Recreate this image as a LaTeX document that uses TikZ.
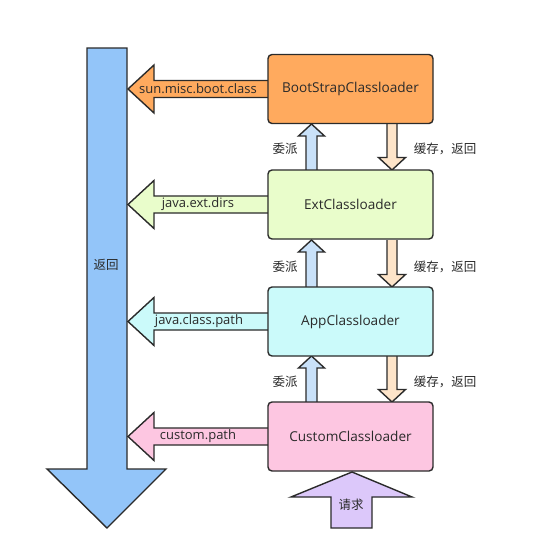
\documentclass[tikz,border=0pt]{standalone}
\usepackage{fontspec}
\setmainfont{Open Sans}
\newfontfamily\cjk{Noto Sans CJK SC}
\usetikzlibrary{calc}
\definecolor{bigblue}{HTML}{93C5F9}
\definecolor{orangef}{HTML}{FFAA5E}
\definecolor{greenf}{HTML}{E9FDCB}
\definecolor{cyanf}{HTML}{CBFAFA}
\definecolor{pinkf}{HTML}{FDC6E1}
\definecolor{purplef}{HTML}{DCC8FA}
\definecolor{upf}{HTML}{C9E1F9}
\definecolor{downf}{HTML}{FDE4C9}
\definecolor{edge}{HTML}{2B2B2B}
\definecolor{txt}{HTML}{2A2A2A}
\newcommand\leftblock[2]{% y, fill
  \draw[shapeline,fill=#2] (268,#1-8.5) -- (154,#1-8.5) -- (154,#1-24) -- (128,#1) -- (154,#1+24) -- (154,#1+8.5) -- (268,#1+8.5);}
\newcommand\upblock[2]{% top y (tip), bottom y
  \draw[shapeline,fill=upf] (306,#2) -- (306,#1+12) -- (298.5,#1+12) -- (311.5,#1) -- (324.5,#1+12) -- (317,#1+12) -- (317,#2);}
\newcommand\downblock[2]{% top y, tip y
  \draw[shapeline,fill=downf] (387,#1) -- (387,#2-12.5) -- (378.5,#2-12.5) -- (392,#2) -- (405.5,#2-12.5) -- (397,#2-12.5) -- (397,#1);}
\begin{document}
\begin{tikzpicture}[x=1pt,y=-1pt,
  shapeline/.style={draw=edge,line width=1.4pt,line join=miter},
  loader/.style={draw=edge,line width=1.4pt,rounded corners=4pt,minimum width=165pt,minimum height=69pt,font=\fontsize{13.6}{16}\selectfont,text=txt,inner sep=0pt},
  lbl/.style={font=\fontsize{13}{15}\selectfont,text=txt,inner sep=0pt},
  cjklbl/.style={font=\cjk\fontsize{12.5}{15}\selectfont,text=txt,inner sep=0pt}]
\useasboundingbox[fill=white] (0,0) rectangle (557,560);
% big return arrow
\draw[shapeline,fill=bigblue] (87,48) -- (127,48) -- (127,469) -- (166,469) -- (107,528) -- (47,469) -- (87,469) -- cycle;
\node[cjklbl] (ret) at (106,265) {返回};
% left arrows
\leftblock{89}{orangef}
\leftblock{204.5}{greenf}
\leftblock{321.5}{cyanf}
\leftblock{436.5}{pinkf}
\node[lbl] (p1) at (198,89) {sun.misc.boot.class};
\node[lbl] (p2) at (198,204.5) {java.ext.dirs};
\node[lbl] (p3) at (199,321.5) {java.class.path};
\node[lbl] (p4) at (198,436.5) {custom.path};
% up / down arrows
\upblock{124}{170}
\upblock{240}{287}
\upblock{356}{402}
\downblock{124}{170}
\downblock{240}{287}
\downblock{356}{402}
% loaders
\node[loader,fill=orangef] (boot) at (350.5,89) {BootStrapClassloader};
\node[loader,fill=greenf] (ext) at (350.5,204.5) {ExtClassloader};
\node[loader,fill=cyanf] (app) at (350.5,321.5) {AppClassloader};
\node[loader,fill=pinkf] (custom) at (350.5,436.5) {CustomClassloader};
% labels
\node[cjklbl] (d1) at (285,149) {委派};
\node[cjklbl] (d2) at (285,267) {委派};
\node[cjklbl] (d3) at (285,382) {委派};
\node[cjklbl] (c1) at (445,149) {缓存，返回};
\node[cjklbl] (c2) at (445,267) {缓存，返回};
\node[cjklbl] (c3) at (445,382) {缓存，返回};
% request arrow
\draw[shapeline,fill=purplef] (331,528) -- (331,497) -- (291,497) -- (352,472) -- (412,497) -- (372,497) -- (372,528) -- cycle;
\node[cjklbl] (req) at (351,505) {请求};
\end{tikzpicture}
\end{document}
